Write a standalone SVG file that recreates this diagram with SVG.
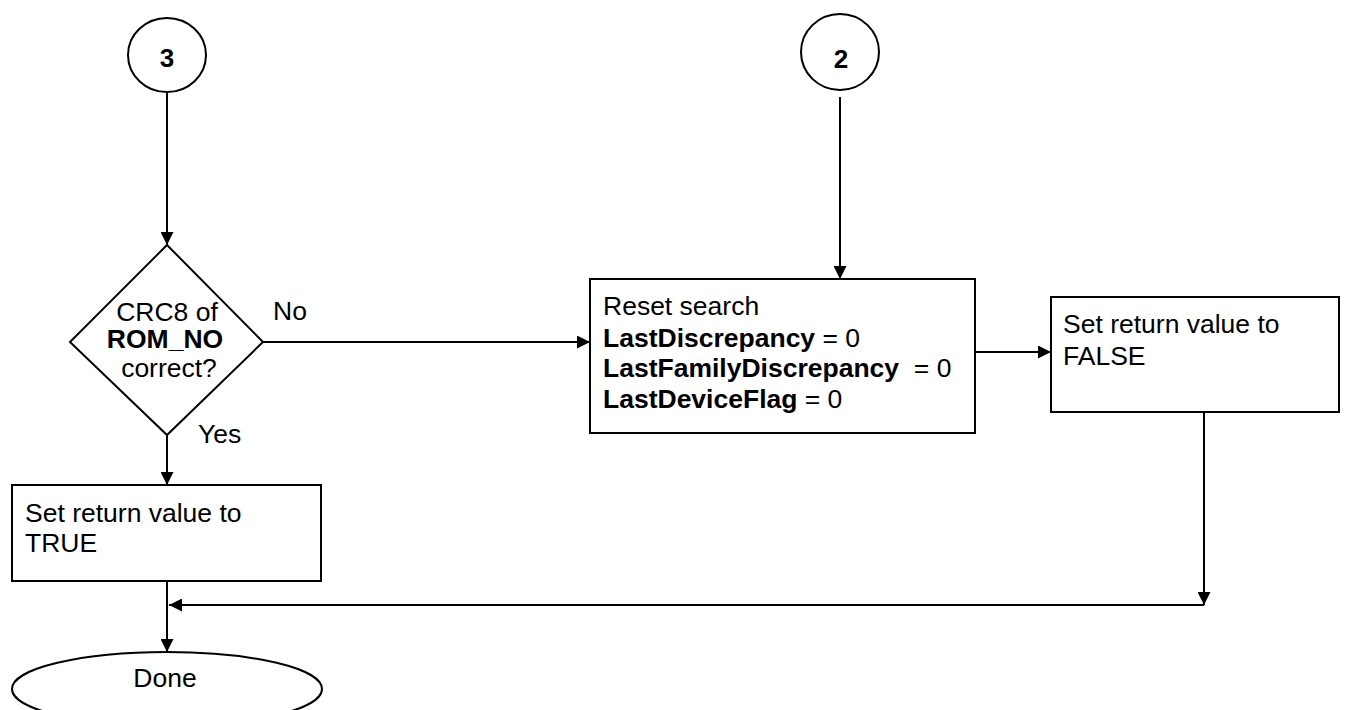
<svg xmlns="http://www.w3.org/2000/svg" width="1349" height="710" viewBox="0 0 1349 710">
<style>
.s{fill:#fff;stroke:#000;stroke-width:2}
.c{fill:none;stroke:#000;stroke-width:2}
text{font-family:"Liberation Sans",Arial,sans-serif;font-size:26.5px;fill:#000}
.b{font-weight:bold}
text.n{font-weight:bold;font-size:26px}
</style>
<defs>
<marker id="a" viewBox="0 0 10 10" refX="10" refY="5" markerWidth="13" markerHeight="13" markerUnits="userSpaceOnUse" orient="auto">
<path d="M0,0L10,5L0,10z" fill="#000"/>
</marker>
</defs>
<rect width="1349" height="710" fill="#fff"/>
<g id="connectors">
<line class="c" x1="167" y1="92" x2="167" y2="245" marker-end="url(#a)"/>
<line class="c" x1="840" y1="97" x2="840" y2="279" marker-end="url(#a)"/>
<line class="c" x1="263" y1="342" x2="590" y2="342" marker-end="url(#a)"/>
<line class="c" x1="975" y1="352" x2="1051" y2="352" marker-end="url(#a)"/>
<line class="c" x1="167" y1="435" x2="167" y2="485" marker-end="url(#a)"/>
<line class="c" x1="1204" y1="412" x2="1204" y2="605" marker-end="url(#a)"/>
<line class="c" x1="1204" y1="605" x2="169" y2="605" marker-end="url(#a)"/>
<line class="c" x1="167" y1="581" x2="167" y2="652" marker-end="url(#a)"/>
<text x="273" y="320">No</text>
<text x="198" y="443">Yes</text>
</g>
<g id="c3">
<ellipse class="s" cx="167" cy="55" rx="39" ry="37"/>
<text class="n" x="167" y="67" text-anchor="middle">3</text>
</g>
<g id="c2">
<ellipse class="s" cx="840" cy="52" rx="39" ry="38"/>
<text class="n" x="841" y="68" text-anchor="middle">2</text>
</g>
<g id="decision">
<polygon class="s" points="167,245 263,342 167,435 70,342"/>
<text x="167" y="321" text-anchor="middle">CRC8 of</text>
<text class="b" x="165" y="348" text-anchor="middle">ROM_NO</text>
<text x="169" y="377" text-anchor="middle">correct?</text>
</g>
<g id="reset">
<rect class="s" x="590" y="279" width="385" height="154"/>
<text x="603" y="315">Reset search</text>
<text x="603" y="347"><tspan class="b">LastDiscrepancy</tspan> = 0</text>
<text x="603" y="377" xml:space="preserve"><tspan class="b">LastFamilyDiscrepancy</tspan>  = 0</text>
<text x="603" y="408"><tspan class="b">LastDeviceFlag</tspan> = 0</text>
</g>
<g id="false">
<rect class="s" x="1051" y="297" width="288" height="115"/>
<text x="1063" y="333">Set return value to</text>
<text x="1063" y="365">FALSE</text>
</g>
<g id="true">
<rect class="s" x="12" y="485" width="309" height="96"/>
<text x="25" y="522">Set return value to</text>
<text x="25" y="552">TRUE</text>
</g>
<g id="done">
<ellipse class="s" cx="167" cy="689" rx="155" ry="37"/>
<text x="165" y="687" text-anchor="middle">Done</text>
</g>
</svg>
